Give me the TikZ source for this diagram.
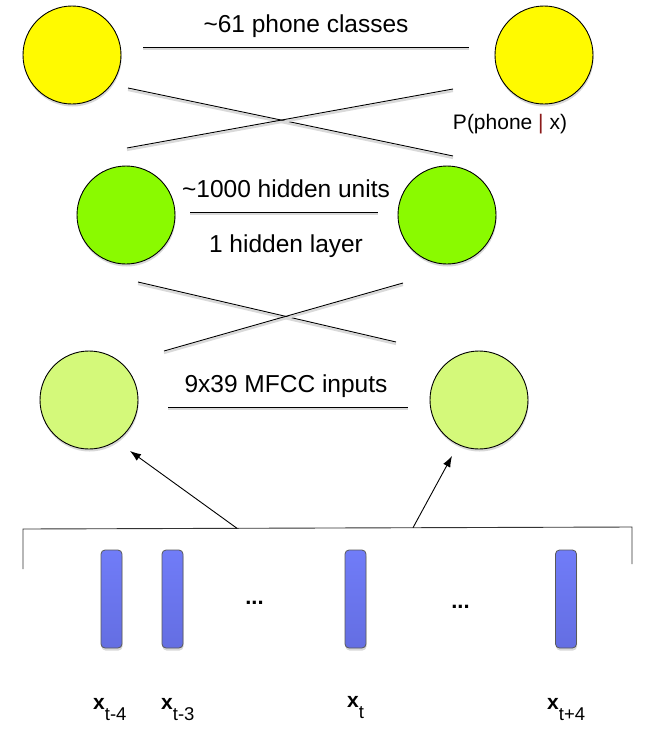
\documentclass[tikz,border=0pt]{standalone}
\usepackage{fontspec}
\setmainfont{Liberation Sans}
\usetikzlibrary{shadows,arrows.meta}
\definecolor{yel}{RGB}{255,250,0}
\definecolor{grn}{RGB}{138,250,0}
\definecolor{lgrn}{RGB}{212,249,122}
\definecolor{bartop}{RGB}{112,124,248}
\definecolor{barmid}{RGB}{122,134,255}
\definecolor{barbot}{RGB}{100,110,226}
\definecolor{pipered}{RGB}{139,26,26}
\begin{document}
\begin{tikzpicture}[x=1pt,y=-1pt,
  unit/.style={circle,draw=black,line width=0.9pt,minimum size=98pt,inner sep=0pt,
    drop shadow={opacity=0.3,shadow xshift=0.6pt,shadow yshift=-2.5pt}},
  lbl/.style={font=\fontsize{24.5}{29}\selectfont,anchor=base,inner sep=0pt},
  conn/.style={line width=0.9pt,black,
    preaction={draw=black!15,line width=2.2pt,transform canvas={yshift=-2pt}}},
  arr/.style={line width=0.9pt,-{Latex[length=11pt,width=8pt]}},
  barbox/.style={rectangle,rounded corners=4pt,minimum width=21pt,minimum height=98pt,
    inner sep=0pt,draw=black!65,line width=0.8pt,top color=bartop,middle color=barmid,bottom color=barbot,
    drop shadow={opacity=0.3,shadow xshift=0.5pt,shadow yshift=-2.5pt}},
  xlab/.style={font=\fontsize{21}{24}\selectfont,anchor=base west,inner sep=0pt},
  dotsl/.style={font=\bfseries\fontsize{22}{24}\selectfont,anchor=base,inner sep=0pt},
  brack/.style={line width=0.9pt,black!80}
]
\fill[white] (0,0) rectangle (646,732);
\useasboundingbox (0,0) rectangle (646,732);

% units
\node[unit,fill=yel] (o1) at (72,55) {};
\node[unit,fill=yel] (o2) at (544,55) {};
\node[unit,fill=grn] (h1) at (126,215) {};
\node[unit,fill=grn] (h2) at (447,215) {};
\node[unit,fill=lgrn] (i1) at (89,400) {};
\node[unit,fill=lgrn] (i2) at (479,400) {};

% texts
\node[lbl] (t1) at (306,32) {\textasciitilde 61 phone classes};
\node[lbl] (t2) at (286,197) {\textasciitilde 1000 hidden units};
\node[lbl] (t3) at (286,252) {1 hidden layer};
\node[lbl] (t4) at (286,392) {9x39 MFCC inputs};
\node[font=\fontsize{21}{25}\selectfont,anchor=base,inner sep=0pt] (p) at (510,129) {P(phone {\color{pipered}|} x)};

% line coordinates
\coordinate (l1a) at (143,47);  \coordinate (l1b) at (469,47);
\coordinate (c1a) at (128,88);  \coordinate (c1b) at (453,156);
\coordinate (c2a) at (127,148); \coordinate (c2b) at (453,89);
\coordinate (l2a) at (190,212); \coordinate (l2b) at (378,212);
\coordinate (c3a) at (138,282); \coordinate (c3b) at (396,342);
\coordinate (c4a) at (164,351); \coordinate (c4b) at (403,283);
\coordinate (l3a) at (168,407); \coordinate (l3b) at (408,407);

\draw[conn] (l1a) -- (l1b);
\draw[conn] (c1a) -- (c1b);
\draw[conn] (c2a) -- (c2b);
\draw[conn] (l2a) -- (l2b);
\draw[conn] (c3a) -- (c3b);
\draw[conn] (c4a) -- (c4b);
\draw[conn] (l3a) -- (l3b);

% bracket
\coordinate (bl) at (23,569);
\coordinate (blt) at (23,529);
\coordinate (brt) at (632,527);
\coordinate (br) at (632,564);
\draw[brack] (bl) -- (blt) -- (brt) -- (br);
\coordinate (s1) at (237,528.3);
\coordinate (s2) at (413,527.7);
\coordinate (tip1) at (130,451);
\coordinate (tip2) at (452,456);
\draw[arr] (s1) -- (tip1);
\draw[arr] (s2) -- (tip2);

% frames
\node[barbox] (b1) at (111.5,599) {};
\node[barbox] (b2) at (172.5,599) {};
\node[barbox] (b3) at (355.5,599) {};
\node[barbox] (b4) at (566,599) {};

\node[dotsl] (d1) at (254.5,604) {...};
\node[dotsl] (d2) at (460.5,608) {...};

\node[xlab] (x1) at (93,709) {\textbf{x}\raisebox{-11pt}{\fontsize{18.5}{19}\selectfont t-4}};
\node[xlab] (x2) at (161,709) {\textbf{x}\raisebox{-11pt}{\fontsize{18.5}{19}\selectfont t-3}};
\node[xlab] (x3) at (347,707) {\textbf{x}\raisebox{-11pt}{\fontsize{18.5}{19}\selectfont t}};
\node[xlab] (x4) at (547,709) {\textbf{x}\raisebox{-11pt}{\fontsize{18.5}{19}\selectfont t+4}};
\end{tikzpicture}
\end{document}
